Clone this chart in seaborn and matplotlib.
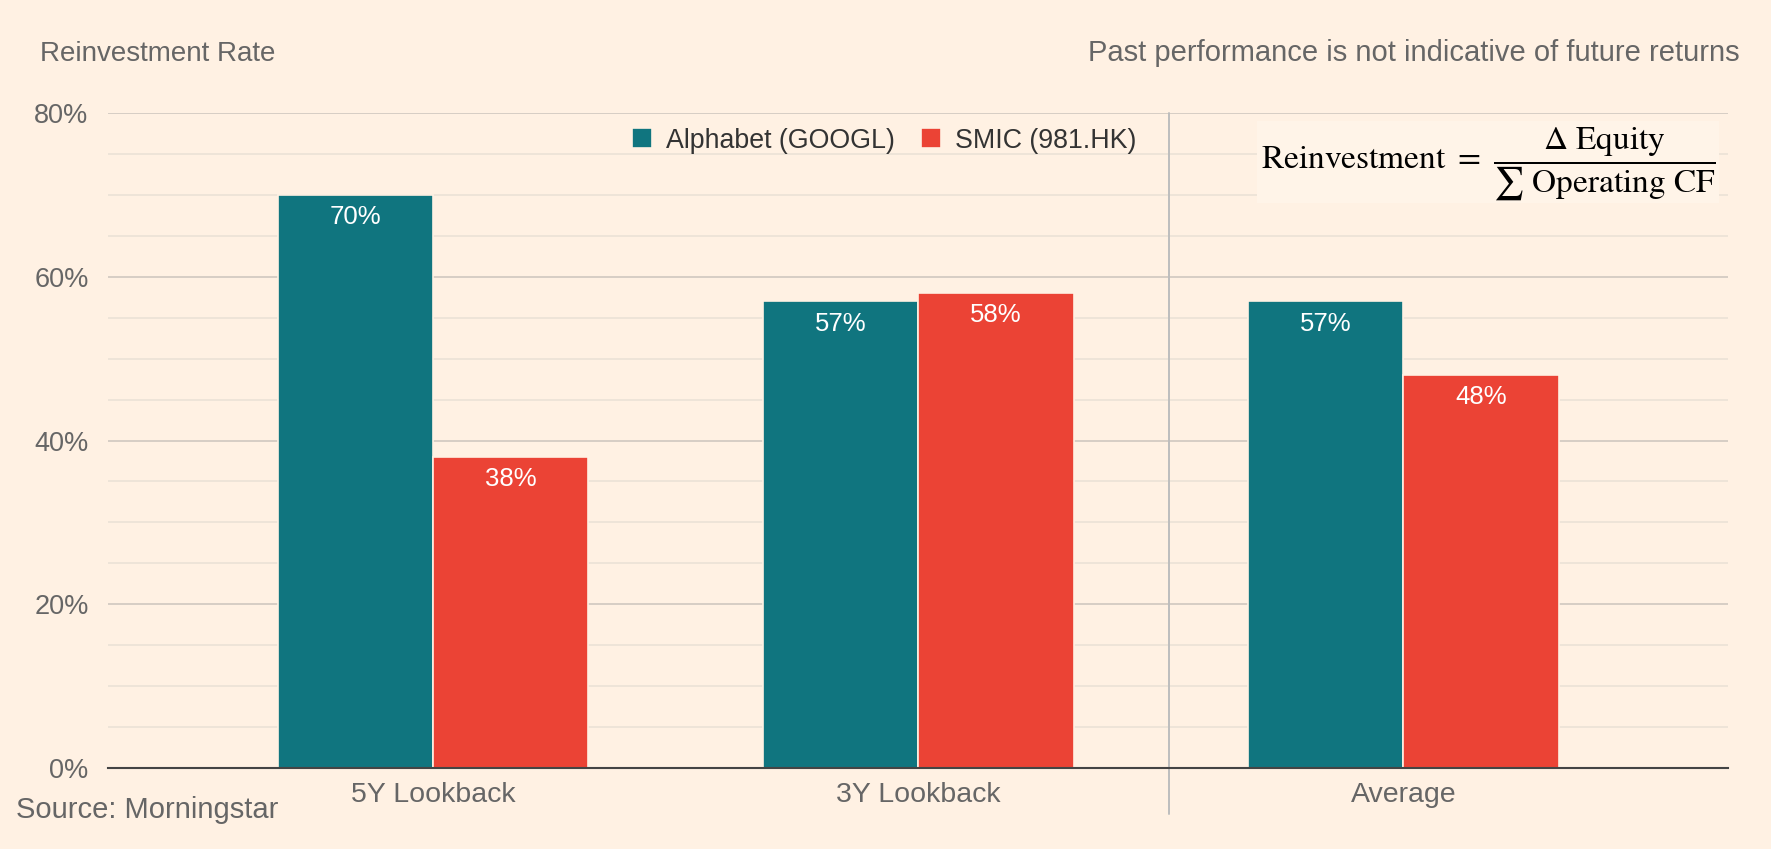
import pandas as pd
import seaborn as sns
import matplotlib.pyplot as plt
from matplotlib.lines import Line2D
from matplotlib.patches import Rectangle
from matplotlib.ticker import MultipleLocator, FuncFormatter

# Data
periods = ['5Y Lookback', '3Y Lookback', 'Average']
companies = ['Alphabet (GOOGL)', 'SMIC (981.HK)']
googl = [70, 57, 57]
smic = [38, 58, 48]

df = pd.DataFrame({
    'period': periods * 2,
    'company': [companies[0]] * 3 + [companies[1]] * 3,
    'rate': googl + smic,
})

bg = '#fff1e3'
grey = '#666666'
palette = {companies[0]: '#10757f', companies[1]: '#eb4335'}

sns.set_style('white')
plt.rcParams['font.family'] = ['Liberation Sans', 'DejaVu Sans']
plt.rcParams['mathtext.fontset'] = 'stix'

fig = plt.figure(figsize=(17.71, 8.49), dpi=100, facecolor=bg)
ax = fig.add_axes([0.061, 0.0954, 0.915, 0.7715], facecolor=bg)

sns.barplot(data=df, x='period', y='rate', hue='company', palette=palette,
            width=0.64, edgecolor=bg, linewidth=1.2, saturation=1, ax=ax, zorder=3)

ax.set_ylim(0, 80)
ax.set_xlim(-0.67, 2.67)
ax.yaxis.set_major_locator(MultipleLocator(20))
ax.yaxis.set_minor_locator(MultipleLocator(5))
ax.yaxis.set_major_formatter(FuncFormatter(lambda v, p: f'{v:.0f}%'))
ax.grid(which='major', axis='y', color='#cfc8bf', linewidth=1.2, zorder=0)
ax.grid(which='minor', axis='y', color='#ebe2d6', linewidth=1.2, zorder=0)
ax.set_axisbelow(True)
for s in ['top', 'right', 'left']:
    ax.spines[s].set_visible(False)
ax.spines['bottom'].set_color('#444444')
ax.spines['bottom'].set_linewidth(1.5)
ax.spines['bottom'].set_zorder(4)
ax.tick_params(axis='both', which='both', length=0, labelsize=19.5, colors=grey)
ax.tick_params(axis='x', labelsize=20.5, pad=10)
ax.tick_params(axis='y', pad=14)
ax.set_xlabel('')
ax.set_ylabel('')

# value labels inside bar tops
for cont in ax.containers:
    for bar in cont:
        h = bar.get_height()
        ax.annotate(f'{h:.0f}%', (bar.get_x() + bar.get_width() / 2, h),
                    xytext=(0, -16), textcoords='offset points',
                    ha='center', va='center', color='white', fontsize=18.5, zorder=5)

# separator between lookbacks and average
sep = Line2D([1.517, 1.517], [1.0, -0.07], transform=ax.get_xaxis_transform(),
             color='#bdbdbd', linewidth=1.4, clip_on=False, zorder=2)
ax.add_line(sep)

# legend
leg = ax.legend(loc='center', bbox_to_anchor=(0.479, 0.958), ncol=2, frameon=False,
                fontsize=19.3, handlelength=0.75, handleheight=0.75, handletextpad=0.5,
                columnspacing=1.0)
for t in leg.get_texts():
    t.set_color('#333333')

# formula box
box = Rectangle((1257 / 1771, 1 - 203 / 849), 462 / 1771, 82 / 849,
                transform=fig.transFigure, facecolor='#fff4e8', edgecolor='none', zorder=3)
fig.patches.append(box)
fig.text(1488 / 1771, 1 - 164 / 849,
         r'$\mathrm{Reinvestment}\ =\ \dfrac{\Delta\ \mathrm{Equity}}{\sum\ \mathrm{Operating\ CF}}$',
         ha='center', va='center', fontsize=24, color='black', zorder=4)

# titles and notes
fig.text(40 / 1771, 1 - 54 / 849, 'Reinvestment Rate', ha='left', va='center',
         fontsize=20, color=grey)
fig.text(1740 / 1771, 1 - 53 / 849, 'Past performance is not indicative of future returns',
         ha='right', va='center', fontsize=21, color=grey)
fig.text(16 / 1771, 1 - 810 / 849, 'Source: Morningstar', ha='left', va='center',
         fontsize=21, color=grey)

fig.savefig('out.png', dpi=100, facecolor=bg)
